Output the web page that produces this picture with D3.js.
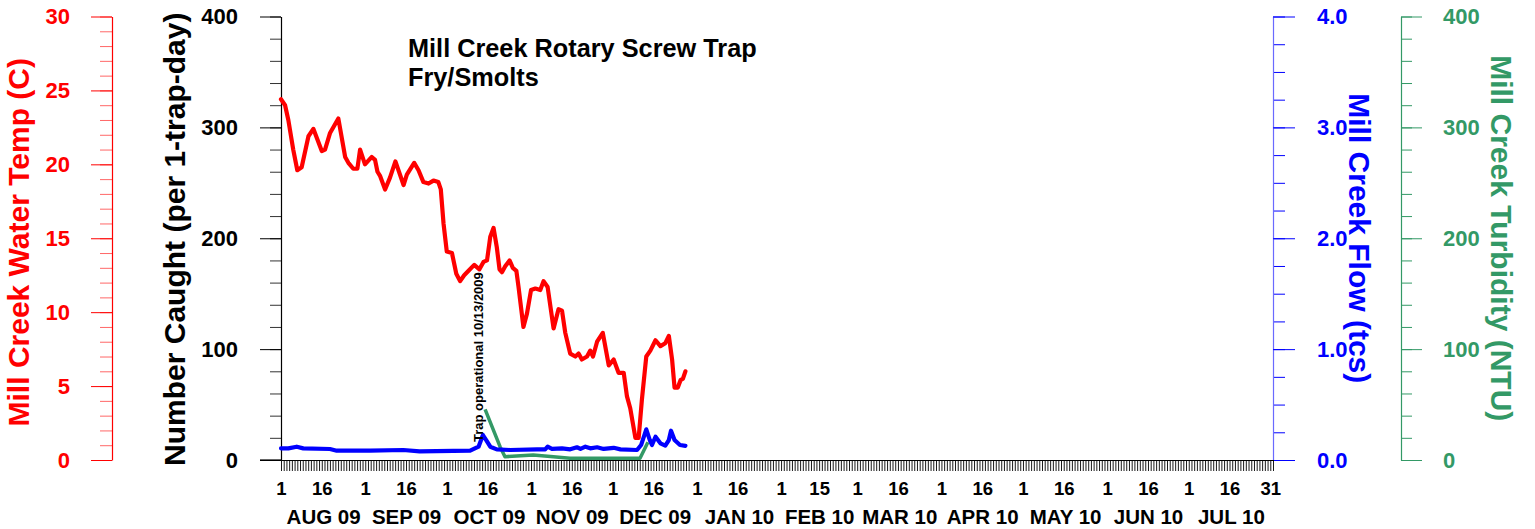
<!DOCTYPE html>
<html>
<head>
<meta charset="utf-8">
<script src="https://cdn.jsdelivr.net/npm/d3@7"></script>
<style>
  html, body { margin: 0; padding: 0; background: #fff; }
  svg { display: block; font-family: "Liberation Sans", Arial, sans-serif; }
</style>
</head>
<body>
<svg id="chart" width="1535" height="529"></svg>
<script>
// ---------------- DATA ----------------
// Days since 1 Aug 2009
const tempDays = [0,1.5,2.7,4.5,6.0,7.6,10.1,11.9,15.0,16.2,18.0,21.1,23.6,24.8,26.6,28.1,29.1,30.9,33.4,34.6,35.5,36.5,38.3,40.1,42.1,45.1,46.3,49.0,50.6,52.4,54.3,56.1,57.9,58.8,59.8,61.0,62.9,64.5,65.9,67.4,69.0,71.1,73.0,74.5,75.8,77.0,78.2,79.4,80.4,81.3,82.5,84.1,85.3,86.6,87.4,89.2,90.5,92.0,93.6,95.4,96.6,98.1,100.3,102.1,103.4,104.6,106.4,108.3,109.5,110.7,112.6,113.8,114.8,116.3,118.4,120.6,122.4,124.2,126.1,127.3,128.5,130.4,131.6,132.8,134.4,135.9,137.8,139.6,141.4,142.7,143.9,144.8,146.0,147.0,147.9,148.8];
const tempValues = [24.4,24.0,23.0,21.0,19.6,19.8,21.9,22.4,20.9,21.0,22.1,23.1,20.5,20.1,19.7,19.7,21.0,20.0,20.5,20.3,19.5,19.2,18.3,19.1,20.2,18.6,19.3,20.1,19.6,18.8,18.7,18.9,18.8,18.3,16.0,14.1,14.0,12.6,12.1,12.5,12.8,13.2,12.9,13.4,13.5,15.1,15.7,14.4,12.9,12.7,13.1,13.5,13.0,12.8,11.7,9.0,9.9,11.5,11.6,11.5,12.1,11.7,8.9,10.2,10.1,8.6,7.2,7.0,7.2,6.8,7.0,7.4,7.0,8.0,8.6,6.4,6.8,5.9,5.9,4.3,3.5,1.5,1.5,4.1,7.0,7.4,8.1,7.7,7.9,8.4,6.8,4.9,4.9,5.4,5.5,6.0];

const flowDays = [0,2.7,5.8,8.2,18,20.5,32.8,45,51,69.6,72.7,74.3,75.5,77,79.4,84.3,94.2,97.2,98.1,99.7,103.4,106.4,108.9,110.2,112,113.8,116.3,118.7,122.4,124.9,131,132.5,134.4,135.7,136.5,137.8,139.6,141.4,142.7,143.5,144.8,146.8,148.8];
const flowValues = [0.105,0.105,0.12,0.105,0.099,0.084,0.084,0.09,0.078,0.084,0.12,0.225,0.18,0.12,0.096,0.09,0.096,0.096,0.12,0.1,0.105,0.096,0.115,0.1,0.12,0.105,0.115,0.1,0.11,0.096,0.09,0.135,0.277,0.18,0.135,0.21,0.15,0.13,0.18,0.264,0.18,0.135,0.128];

const turbDays = [75.1,80.6,82.4,92.8,100.2,106.3,132.1,135.0];
const turbValues = [45.7,12,3,4.5,3,1.5,1.5,16];

const dayTickDates = ["2009-08-01","2009-08-16","2009-09-01","2009-09-16","2009-10-01","2009-10-16","2009-11-01","2009-11-16","2009-12-01","2009-12-16","2010-01-01","2010-01-16","2010-02-01","2010-02-15","2010-03-01","2010-03-16","2010-04-01","2010-04-16","2010-05-01","2010-05-16","2010-06-01","2010-06-16","2010-07-01","2010-07-16","2010-07-31"];
const dayTickLabels = ["1","16","1","16","1","16","1","16","1","16","1","16","1","15","1","16","1","16","1","16","1","16","1","16","31"];
const monthStarts = ["2009-08-01","2009-09-01","2009-10-01","2009-11-01","2009-12-01","2010-01-01","2010-02-01","2010-03-01","2010-04-01","2010-05-01","2010-06-01","2010-07-01"];
const monthLabels = ["AUG 09","SEP 09","OCT 09","NOV 09","DEC 09","JAN 10","FEB 10","MAR 10","APR 10","MAY 10","JUN 10","JUL 10"];

const titleLines = ["Mill Creek Rotary Screw Trap", "Fry/Smolts"];
const annotationText = "Trap operational 10/13/2009";
const annotationDate = "2009-10-13";

// ---------------- LAYOUT ----------------
const svg = d3.select("#chart");
const x0 = 281, x1 = 1273, yTop = 16.5, yBot = 460;
const start = new Date(Date.UTC(2009, 7, 1));
const end = new Date(Date.UTC(2010, 7, 1));
const parse = s => new Date(s + "T00:00:00Z");
const dayToDate = d => new Date(start.getTime() + d * 864e5);

const x = d3.scaleUtc().domain([start, end]).range([x0, x1]);
const yNum = d3.scaleLinear().domain([0, 400]).range([yBot, yTop]);
const yTemp = d3.scaleLinear().domain([0, 30]).range([yBot, yTop]);
const yFlow = d3.scaleLinear().domain([0, 4]).range([yBot, yTop]);
const yTurb = d3.scaleLinear().domain([0, 400]).range([yBot, yTop]);

const RED = "#ff0000", BLUE = "#0000ff", GREEN = "#339966";
const FONT = '"Liberation Sans", Arial, sans-serif';

function styleAxis(g, color, lineColor, fontSize) {
  g.selectAll("path.domain").attr("stroke", lineColor || color).attr("stroke-width", 1.2);
  g.selectAll(".tick line").attr("stroke", color);
  g.selectAll(".tick text").attr("fill", color).attr("font-size", fontSize || 22)
    .attr("font-weight", "bold").attr("font-family", FONT);
}

// ---- Temperature axis (far left) ----
const tempMinor = svg.append("g").attr("transform", `translate(112,0)`)
  .call(d3.axisLeft(yTemp).tickValues(d3.range(0, 31, 1)).tickSize(12).tickFormat(""));
tempMinor.selectAll("path.domain").remove();
tempMinor.selectAll(".tick line").attr("stroke", RED).attr("stroke-opacity", 0.6);
const tempAx = svg.append("g").attr("transform", `translate(112,0)`)
  .call(d3.axisLeft(yTemp).tickValues(d3.range(0, 31, 5)).tickSize(21).tickSizeOuter(0).tickPadding(21).tickFormat(d3.format("d")));
styleAxis(tempAx, RED);

svg.append("text").attr("transform", `translate(29,${(yTop + yBot) / 2 + 4}) rotate(-90)`)
  .attr("text-anchor", "middle").attr("font-size", 30).attr("font-weight", "bold").attr("fill", RED)
  .text("Mill Creek Water Temp (C)");

// ---- Number caught axis ----
const numMinor = svg.append("g").attr("transform", `translate(${x0},0)`)
  .call(d3.axisLeft(yNum).tickValues(d3.range(0, 401, 20)).tickSize(11).tickFormat(""));
numMinor.selectAll("path.domain").remove();
numMinor.selectAll(".tick line").attr("stroke", "#333");
const numAx = svg.append("g").attr("transform", `translate(${x0},0)`)
  .call(d3.axisLeft(yNum).tickValues(d3.range(0, 401, 100)).tickSize(21).tickSizeOuter(0).tickPadding(22).tickFormat(d3.format("d")));
styleAxis(numAx, "#000");

svg.append("text").attr("transform", `translate(185,${(yTop + yBot) / 2 + 1}) rotate(-90)`)
  .attr("text-anchor", "middle").attr("font-size", 30).attr("font-weight", "bold").attr("fill", "#000")
  .text("Number Caught (per 1-trap-day)");

// ---- Flow axis (right) ----
const flowMinor = svg.append("g").attr("transform", `translate(${x1},0)`)
  .call(d3.axisRight(yFlow).tickValues(d3.range(0, 4.01, 0.25)).tickSize(12).tickFormat(""));
flowMinor.selectAll("path.domain").remove();
flowMinor.selectAll(".tick line").attr("stroke", BLUE);
const flowAx = svg.append("g").attr("transform", `translate(${x1},0)`)
  .call(d3.axisRight(yFlow).tickValues([0, 1, 2, 3, 4]).tickSize(22).tickSizeOuter(0).tickPadding(22).tickFormat(d3.format(".1f")));
styleAxis(flowAx, BLUE, "#6a6aff");

svg.append("text").attr("transform", `translate(1349,${(yTop + yBot) / 2}) rotate(90)`)
  .attr("text-anchor", "middle").attr("font-size", 30).attr("font-weight", "bold").attr("fill", BLUE)
  .text("Mill Creek Flow (tcs)");

// ---- Turbidity axis (far right) ----
const turbMinor = svg.append("g").attr("transform", `translate(1401,0)`)
  .call(d3.axisRight(yTurb).tickValues(d3.range(0, 401, 20)).tickSize(11).tickFormat(""));
turbMinor.selectAll("path.domain").remove();
turbMinor.selectAll(".tick line").attr("stroke", GREEN);
const turbAx = svg.append("g").attr("transform", `translate(1401,0)`)
  .call(d3.axisRight(yTurb).tickValues(d3.range(0, 401, 100)).tickSize(21).tickSizeOuter(0).tickPadding(21).tickFormat(d3.format("d")));
styleAxis(turbAx, GREEN);

svg.append("text").attr("transform", `translate(1491,${(yTop + yBot) / 2}) rotate(90)`)
  .attr("text-anchor", "middle").attr("font-size", 30).attr("font-weight", "bold").attr("fill", GREEN)
  .text("Mill Creek Turbidity (NTU)");

// ---- X axis ----
const dailyAx = svg.append("g").attr("transform", `translate(0,${yBot})`)
  .call(d3.axisBottom(x).tickValues(d3.utcDay.range(start, d3.utcDay.offset(end, 1))).tickSize(11).tickFormat("").tickSizeOuter(0));
dailyAx.selectAll("path.domain").attr("stroke", "#000").attr("stroke-width", 1.2);
dailyAx.selectAll(".tick line").attr("stroke", "#000").attr("stroke-width", 0.9);

const dayAx = svg.append("g").attr("transform", `translate(0,${yBot})`)
  .call(d3.axisBottom(x).tickValues(dayTickDates.map(parse)).tickSize(0).tickPadding(22)
    .tickFormat((d, i) => dayTickLabels[i]));
dayAx.select("path.domain").remove();
dayAx.selectAll(".tick text").attr("font-size", 18.5).attr("font-weight", "bold").attr("fill", "#000")
  .attr("font-family", FONT);

const monthMid = monthStarts.map(s => {
  const a = parse(s), b = d3.utcMonth.offset(a, 1);
  return new Date((a.getTime() + b.getTime()) / 2);
});
const monthAx = svg.append("g").attr("transform", `translate(0,${yBot})`)
  .call(d3.axisBottom(x).tickValues(monthMid).tickSize(0).tickPadding(49)
    .tickFormat((d, i) => monthLabels[i]));
monthAx.select("path.domain").remove();
monthAx.selectAll(".tick text").attr("font-size", 20.5).attr("font-weight", "bold").attr("fill", "#000")
  .attr("font-family", FONT);

// extend baseline to the left of the axis
svg.append("line").attr("x1", 260).attr("x2", x0).attr("y1", yBot).attr("y2", yBot).attr("stroke", "#000").attr("stroke-width", 1.2);

// ---- Lines ----
const lineOf = (ys) => d3.line().x(d => x(dayToDate(d[0]))).y(d => ys(d[1]));
const turbData = turbDays.map((d, i) => [d, turbValues[i]]);
const flowData = flowDays.map((d, i) => [d, flowValues[i]]);
const tempData = tempDays.map((d, i) => [d, tempValues[i]]);

svg.append("path").datum(turbData).attr("d", lineOf(yTurb)).attr("fill", "none")
  .attr("stroke", GREEN).attr("stroke-width", 3.5).attr("stroke-linejoin", "round");
svg.append("path").datum(flowData).attr("d", lineOf(yFlow)).attr("fill", "none")
  .attr("stroke", BLUE).attr("stroke-width", 4.2).attr("stroke-linejoin", "round").attr("stroke-linecap", "round");
svg.append("path").datum(tempData).attr("d", lineOf(yTemp)).attr("fill", "none")
  .attr("stroke", RED).attr("stroke-width", 4.2).attr("stroke-linejoin", "round").attr("stroke-linecap", "round");

// ---- Annotation ----
svg.append("text").attr("transform", `translate(${x(parse(annotationDate)) + 4},442) rotate(-90)`)
  .attr("text-anchor", "start").attr("font-size", 13).attr("font-weight", "bold").attr("fill", "#000")
  .text(annotationText);

// ---- Title ----
svg.append("text").attr("x", 408).attr("y", 57).attr("font-size", 25.3).attr("font-weight", "bold").attr("fill", "#000").text(titleLines[0]);
svg.append("text").attr("x", 408).attr("y", 86).attr("font-size", 25.3).attr("font-weight", "bold").attr("fill", "#000").text(titleLines[1]);
</script>
</body>
</html>
